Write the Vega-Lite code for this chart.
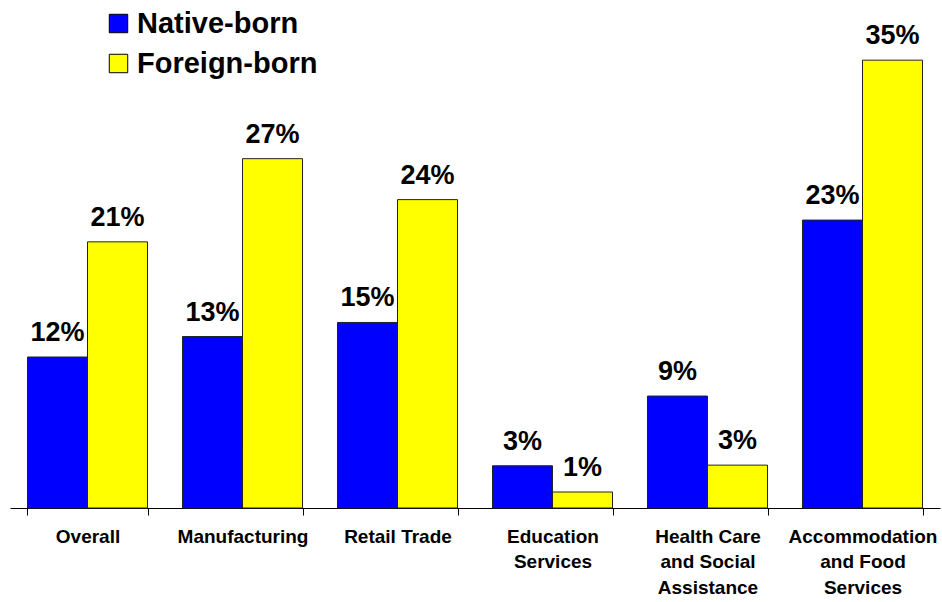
{
  "$schema": "https://vega.github.io/schema/vega-lite/v6.json",
  "width": 930,
  "height": 508,
  "autosize": "none",
  "padding": {"left": 10, "top": 0, "right": 2, "bottom": 94},
  "background": "white",
  "config": {"view": {"stroke": null}, "font": "Liberation Sans"},
  "data": {"values": [
    {"industry": "Overall", "group": "Native-born", "value": 11.8, "label": "12%"},
    {"industry": "Overall", "group": "Foreign-born", "value": 20.8, "label": "21%"},
    {"industry": "Manufacturing", "group": "Native-born", "value": 13.4, "label": "13%"},
    {"industry": "Manufacturing", "group": "Foreign-born", "value": 27.3, "label": "27%"},
    {"industry": "Retail Trade", "group": "Native-born", "value": 14.5, "label": "15%"},
    {"industry": "Retail Trade", "group": "Foreign-born", "value": 24.1, "label": "24%"},
    {"industry": "Education|Services", "group": "Native-born", "value": 3.3, "label": "3%"},
    {"industry": "Education|Services", "group": "Foreign-born", "value": 1.25, "label": "1%"},
    {"industry": "Health Care|and Social|Assistance", "group": "Native-born", "value": 8.75, "label": "9%"},
    {"industry": "Health Care|and Social|Assistance", "group": "Foreign-born", "value": 3.35, "label": "3%"},
    {"industry": "Accommodation|and Food|Services", "group": "Native-born", "value": 22.5, "label": "23%"},
    {"industry": "Accommodation|and Food|Services", "group": "Foreign-born", "value": 35, "label": "35%"}
  ]},
  "encoding": {
    "x": {
      "field": "industry", "type": "nominal", "sort": null,
      "scale": {"paddingInner": 0.2258, "paddingOuter": 0.1129},
      "axis": {
        "title": null, "labelAngle": 0, "labelExpr": "split(datum.label, '|')",
        "labelFontSize": 19, "labelFontWeight": "bold", "labelColor": "black",
        "labelLineHeight": 25.5, "labelPadding": 12, "labelFont": "Liberation Sans",
        "domainColor": "black", "tickColor": "black", "tickSize": 7,
        "tickBand": "extent", "grid": false
      }
    },
    "xOffset": {"field": "group", "type": "nominal", "sort": ["Native-born", "Foreign-born"], "scale": {"paddingInner": 0, "paddingOuter": 0}},
    "y": {"field": "value", "type": "quantitative", "scale": {"domain": [0, 39.7], "nice": false}, "axis": null}
  },
  "layer": [
    {
      "mark": {"type": "bar", "stroke": "#222222", "strokeWidth": 1},
      "encoding": {
        "color": {
          "field": "group", "type": "nominal",
          "scale": {"domain": ["Native-born", "Foreign-born"], "range": ["#0000FF", "#FFFF00"]},
          "legend": {
            "title": null, "orient": "none", "legendX": 94, "legendY": 9, "padding": 0,
            "symbolType": "square", "symbolSize": 340, "symbolStrokeColor": "black",
            "symbolStrokeWidth": 1, "labelFontSize": 29, "labelFontWeight": "bold",
            "labelColor": "black", "labelFont": "Liberation Sans", "rowPadding": 10,
            "labelOffset": 4, "labelLimit": 400
          }
        }
      }
    },
    {
      "mark": {"type": "text", "dy": -16, "baseline": "alphabetic", "fontSize": 27, "fontWeight": "bold", "font": "Liberation Sans", "color": "black"},
      "encoding": {"text": {"field": "label"}}
    }
  ]
}
